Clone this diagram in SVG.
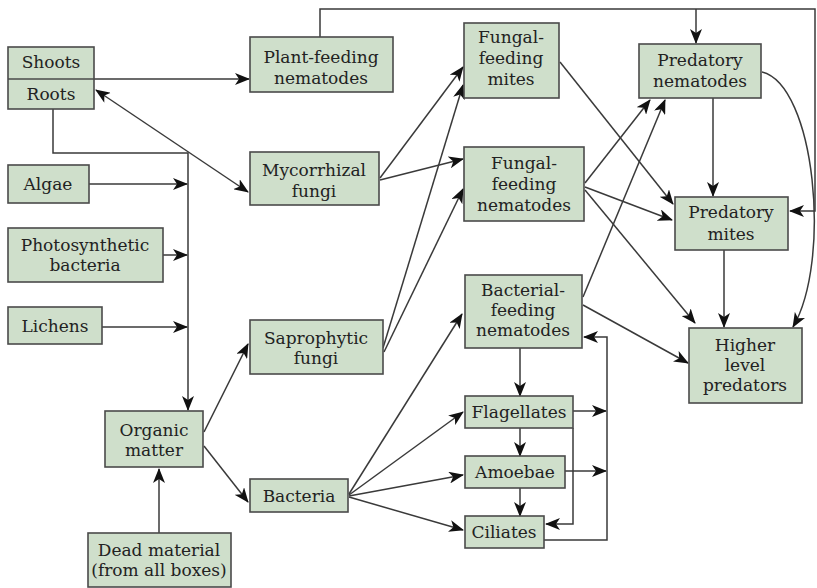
<svg xmlns="http://www.w3.org/2000/svg" width="817" height="588" viewBox="0 0 817 588">
<style>
.box{fill:#cfdfcb;stroke:#4a4a4a;stroke-width:1.6}
.ln{fill:none;stroke:#3a3a3a;stroke-width:1.5}
.a{marker-end:url(#ah)}
text{font-family:'DejaVu Serif','Liberation Serif',serif;font-size:17px;fill:#222;text-anchor:middle}
</style>
<defs>
<marker id="ah" markerUnits="userSpaceOnUse" markerWidth="17" markerHeight="12" refX="14" refY="6" orient="auto">
<path d="M0,0 L15,6 L0,12 L4,6 Z" fill="#111"/>
</marker>
<marker id="as" markerUnits="userSpaceOnUse" markerWidth="17" markerHeight="12" refX="1" refY="6" orient="auto">
<path d="M15,0 L0,6 L15,12 L11,6 Z" fill="#111"/>
</marker>
</defs>
<rect width="817" height="588" fill="#fff"/>
<g id="connectors">
<path class="ln a" d="M94,79 H249"/>
<path class="ln a" d="M320,37 V9 H815 V211 H790"/>
<path class="ln a" d="M696,9 V43"/>
<path class="ln a" d="M96,90 L248,192" marker-start="url(#as)"/>
<path class="ln a" d="M53,109 V153 H188 V410"/>
<path class="ln a" d="M89,184 H187"/>
<path class="ln a" d="M163,255 H187"/>
<path class="ln a" d="M102,327 H187"/>
<path class="ln a" d="M159,533 V469"/>
<path class="ln a" d="M204,432 L248,344"/>
<path class="ln a" d="M204,446 L248,502"/>
<path class="ln a" d="M380,178 L463,67"/>
<path class="ln a" d="M380,180 L463,159"/>
<path class="ln a" d="M383,348 L463,85"/>
<path class="ln a" d="M384,352 L463,189"/>
<path class="ln a" d="M560,62 L673,204"/>
<path class="ln a" d="M585,183 L650,100"/>
<path class="ln a" d="M585,187 L672,220"/>
<path class="ln a" d="M585,190 L695,323"/>
<path class="ln a" d="M583,297 L665,100"/>
<path class="ln a" d="M583,305 L688,363"/>
<path class="ln a" d="M713,98 V196"/>
<path class="ln a" d="M724,250 V327"/>
<path class="ln a" d="M762,72 C815,85 832,260 793,327"/>
<path class="ln a" d="M349,494 L462,314"/>
<path class="ln a" d="M349,495 L463,412"/>
<path class="ln a" d="M349,496 L463,475"/>
<path class="ln a" d="M349,497 L463,530"/>
<path class="ln a" d="M520,348 V396"/>
<path class="ln a" d="M520,428 V456"/>
<path class="ln a" d="M520,488 V516"/>
<path class="ln a" d="M573,411 H606"/>
<path class="ln a" d="M565,471 H606"/>
<path class="ln a" d="M544,540 H607 V337 H584"/>
<path class="ln a" d="M573,428 V524 H546"/>
</g>
<g id="shoots-roots"><rect class="box" x="8" y="47" width="86" height="62"/><line x1="8" y1="79" x2="94" y2="79" stroke="#4a4a4a" stroke-width="1.6"/><text x="51" y="68">Shoots</text><text x="51" y="100">Roots</text></g>
<g id="plant-feeding-nematodes"><rect class="box" x="250" y="37" width="143" height="55"/><text x="321" y="63">Plant-feeding</text><text x="321" y="84">nematodes</text></g>
<g id="fungal-feeding-mites"><rect class="box" x="464" y="23" width="95" height="75"/><text x="511" y="43">Fungal-</text><text x="511" y="64">feeding</text><text x="511" y="85">mites</text></g>
<g id="predatory-nematodes"><rect class="box" x="639" y="44" width="122" height="54"/><text x="700" y="66">Predatory</text><text x="700" y="87">nematodes</text></g>
<g id="mycorrhizal-fungi"><rect class="box" x="250" y="152" width="129" height="53"/><text x="314" y="176">Mycorrhizal</text><text x="314" y="197">fungi</text></g>
<g id="fungal-feeding-nematodes"><rect class="box" x="464" y="147" width="120" height="74"/><text x="524" y="169">Fungal-</text><text x="524" y="190">feeding</text><text x="524" y="211">nematodes</text></g>
<g id="predatory-mites"><rect class="box" x="675" y="197" width="113" height="53"/><text x="731" y="218">Predatory</text><text x="731" y="240">mites</text></g>
<g id="algae"><rect class="box" x="8" y="165" width="81" height="38"/><text x="48" y="190">Algae</text></g>
<g id="photosynthetic-bacteria"><rect class="box" x="8" y="228" width="155" height="54"/><text x="85" y="251">Photosynthetic</text><text x="85" y="271">bacteria</text></g>
<g id="lichens"><rect class="box" x="8" y="307" width="94" height="37"/><text x="55" y="332">Lichens</text></g>
<g id="saprophytic-fungi"><rect class="box" x="250" y="320" width="133" height="54"/><text x="316" y="344">Saprophytic</text><text x="316" y="364">fungi</text></g>
<g id="bacterial-feeding-nematodes"><rect class="box" x="465" y="275" width="117" height="73"/><text x="523" y="296">Bacterial-</text><text x="523" y="316">feeding</text><text x="523" y="336">nematodes</text></g>
<g id="higher-level-predators"><rect class="box" x="689" y="328" width="113" height="75"/><text x="745" y="351">Higher</text><text x="745" y="371">level</text><text x="745" y="391">predators</text></g>
<g id="organic-matter"><rect class="box" x="105" y="411" width="98" height="56"/><text x="154" y="436">Organic</text><text x="154" y="456">matter</text></g>
<g id="flagellates"><rect class="box" x="465" y="396" width="108" height="32"/><text x="519" y="418">Flagellates</text></g>
<g id="amoebae"><rect class="box" x="465" y="456" width="100" height="32"/><text x="515" y="478">Amoebae</text></g>
<g id="ciliates"><rect class="box" x="465" y="516" width="79" height="32"/><text x="504" y="538">Ciliates</text></g>
<g id="bacteria"><rect class="box" x="250" y="479" width="98" height="33"/><text x="299" y="502">Bacteria</text></g>
<g id="dead-material"><rect class="box" x="88" y="533" width="143" height="54"/><text x="159" y="556">Dead material</text><text x="159" y="576">(from all boxes)</text></g>
</svg>
